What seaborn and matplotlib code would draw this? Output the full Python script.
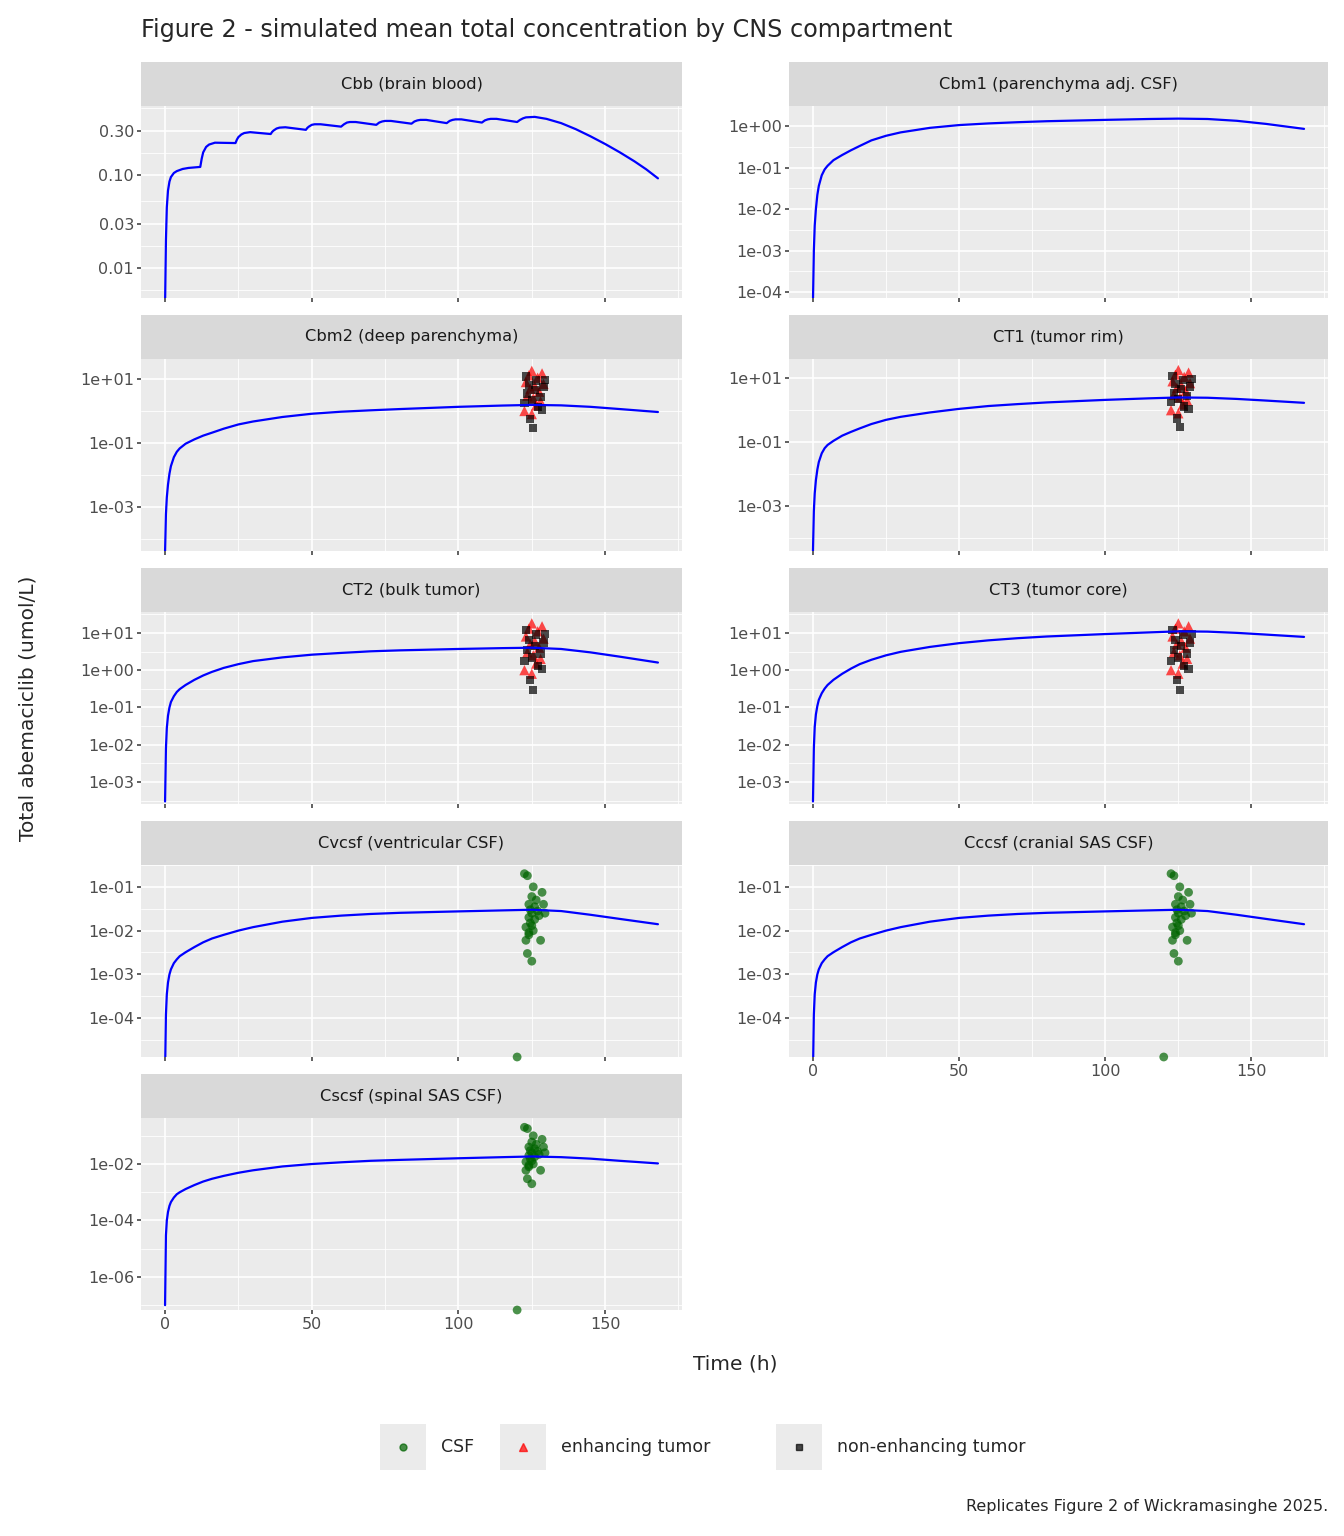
import numpy as np
import matplotlib
matplotlib.use("Agg")
import matplotlib.pyplot as plt
import seaborn as sns
from matplotlib.lines import Line2D
from matplotlib.patches import Rectangle

# ---- simulated curves (time h, conc umol/L) ----
cbb_t = [0, 0.3, 0.6, 1, 1.5, 2, 3, 4, 6, 8, 12, 12.5, 13, 14, 15, 17, 24, 24.5, 25, 26, 27, 29, 36, 36.5, 37, 38, 39, 41,
         48, 48.5, 49, 50, 51, 53, 60, 60.5, 61, 62, 63, 65, 72, 72.5, 73, 74, 75, 77, 84, 84.5, 85, 86, 87, 89,
         96, 96.5, 97, 98, 99, 101, 108, 108.5, 109, 110, 111, 113, 120, 120.5, 121, 122, 123, 126, 130, 135,
         140, 145, 150, 155, 160, 164, 168]
cbb_c = [0.004, 0.02, 0.045, 0.068, 0.085, 0.095, 0.105, 0.11, 0.116, 0.119, 0.122, 0.15, 0.175, 0.2, 0.212, 0.222,
         0.22, 0.24, 0.255, 0.272, 0.282, 0.288, 0.275, 0.29, 0.3, 0.315, 0.322, 0.325, 0.305, 0.32, 0.33, 0.345, 0.35, 0.35,
         0.33, 0.34, 0.35, 0.365, 0.37, 0.37, 0.345, 0.355, 0.365, 0.375, 0.38, 0.38, 0.355, 0.365, 0.375, 0.385, 0.39, 0.39,
         0.36, 0.37, 0.38, 0.39, 0.395, 0.395, 0.365, 0.375, 0.385, 0.395, 0.40, 0.40, 0.37, 0.38, 0.39, 0.405, 0.415,
         0.42, 0.40, 0.36, 0.31, 0.26, 0.215, 0.175, 0.14, 0.115, 0.092]

t_smooth = [0, 0.3, 0.6, 1, 1.5, 2, 3, 4, 5, 7, 10, 13, 16, 20, 25, 30, 40, 50, 60, 70, 80, 100, 115, 125, 135,
            145, 155, 168]
cbm1_c = [6e-5, 1e-3, 4e-3, 1e-2, 2.2e-2, 3.6e-2, 6.5e-2, 9e-2, 0.11, 0.15, 0.2, 0.26, 0.33, 0.45, 0.58, 0.7, 0.9, 1.05,
          1.15, 1.23, 1.3, 1.4, 1.47, 1.5, 1.47, 1.33, 1.12, 0.85]
cbm2_c = [4e-5, 6e-4, 2e-3, 5e-3, 1.1e-2, 1.9e-2, 3.6e-2, 5.3e-2, 6.8e-2, 9.5e-2, 0.13, 0.17, 0.21, 0.28, 0.38, 0.47,
          0.65, 0.82, 0.95, 1.05, 1.15, 1.35, 1.48, 1.55, 1.5, 1.35, 1.15, 0.93]
ct1_c = [4e-5, 7e-4, 2.5e-3, 6.5e-3, 1.4e-2, 2.4e-2, 4.5e-2, 6.5e-2, 8.2e-2, 0.11, 0.16, 0.21, 0.27, 0.37, 0.5, 0.62,
         0.85, 1.1, 1.35, 1.55, 1.75, 2.1, 2.35, 2.5, 2.45, 2.25, 2.0, 1.7]
ct2_c = [3e-4, 8e-3, 2.8e-2, 6e-2, 0.1, 0.14, 0.2, 0.26, 0.31, 0.4, 0.55, 0.72, 0.9, 1.15, 1.45, 1.75, 2.2, 2.6, 2.9,
         3.2, 3.4, 3.7, 3.9, 4.0, 3.7, 3.0, 2.3, 1.6]
ct3_c = [3e-4, 8e-3, 3e-2, 6.5e-2, 0.11, 0.16, 0.24, 0.32, 0.4, 0.55, 0.8, 1.1, 1.45, 1.9, 2.5, 3.1, 4.2, 5.3, 6.3,
         7.2, 8.0, 9.3, 10.3, 11.0, 10.8, 10.0, 9.0, 7.8]
cvcsf_c = [6e-6, 1.2e-4, 3.5e-4, 6.5e-4, 1e-3, 1.3e-3, 1.8e-3, 2.2e-3, 2.6e-3, 3.2e-3, 4.2e-3, 5.4e-3, 6.6e-3,
           8e-3, 1e-2, 1.2e-2, 1.6e-2, 1.95e-2, 2.2e-2, 2.4e-2, 2.55e-2, 2.75e-2, 2.9e-2, 3.0e-2, 2.8e-2, 2.3e-2,
           1.85e-2, 1.4e-2]
cccsf_c = cvcsf_c
cscsf_c = [1e-7, 3e-5, 1e-4, 2e-4, 3.3e-4, 4.5e-4, 6.5e-4, 8.5e-4, 1e-3, 1.3e-3, 1.8e-3, 2.4e-3, 3e-3, 3.8e-3,
           4.9e-3, 6e-3, 8.2e-3, 1.0e-2, 1.15e-2, 1.3e-2, 1.4e-2, 1.6e-2, 1.75e-2, 1.85e-2, 1.75e-2, 1.55e-2,
           1.3e-2, 1.05e-2]

# ---- observed data ----
enh_t = [122.5, 123.0, 123.5, 124.0, 124.5, 125.0, 125.0, 125.5, 126.0, 126.5, 127.0, 127.5, 128.0, 128.5, 129.0]
enh_c = [1.0, 8.0, 3.0, 13.0, 5.0, 18.0, 0.8, 2.5, 6.0, 1.5, 11.0, 4.0, 2.0, 15.0, 7.0]
non_t = [122.5, 123.0, 123.5, 124.0, 124.5, 125.0, 125.5, 126.0, 126.5, 127.0, 128.0, 128.5, 129.0, 129.5]
non_c = [1.8, 12.0, 3.5, 6.5, 0.55, 2.2, 0.3, 4.5, 9.0, 1.3, 2.8, 1.1, 5.5, 9.5]
csf_t = [120.0, 122.5, 123.0, 123.0, 123.5, 123.5, 124.0, 124.0, 124.0, 124.5, 124.5, 125.0, 125.0,
         125.0, 125.5, 125.5, 126.0, 126.0, 126.5, 127.0, 127.5, 128.0, 128.5, 129.0, 129.5, 124.0, 125.0]
csf_c = [1e-9, 0.2, 0.006, 0.012, 0.18, 0.003, 0.04, 0.02, 0.008, 0.03, 0.015, 0.002, 0.06, 0.025,
         0.1, 0.01, 0.035, 0.018, 0.05, 0.028, 0.022, 0.006, 0.075, 0.04, 0.025, 0.009, 0.013]

panels = [
    ("Cbb (brain blood)", cbb_t, cbb_c, None, (-2.32, -0.26)),
    ("Cbm1 (parenchyma adj. CSF)", t_smooth, cbm1_c, None, (-4.14, 0.48)),
    ("Cbm2 (deep parenchyma)", t_smooth, cbm2_c, "tumor", (-4.375, 1.625)),
    ("CT1 (tumor rim)", t_smooth, ct1_c, "tumor", (-4.4, 1.6)),
    ("CT2 (bulk tumor)", t_smooth, ct2_c, "tumor", (-3.59, 1.56)),
    ("CT3 (tumor core)", t_smooth, ct3_c, "tumor", (-3.59, 1.56)),
    ("Cvcsf (ventricular CSF)", t_smooth, cvcsf_c, "csf", (-4.89, -0.5)),
    ("Cccsf (cranial SAS CSF)", t_smooth, cccsf_c, "csf", (-4.89, -0.5)),
    ("Cscsf (spinal SAS CSF)", t_smooth, cscsf_c, "csf", (-7.17, -0.37)),
]
yticks = [
    [0.01, 0.03, 0.10, 0.30],
    [1e-4, 1e-3, 1e-2, 1e-1, 1],
    [1e-3, 1e-1, 10],
    [1e-3, 1e-1, 10],
    [1e-3, 1e-2, 1e-1, 1, 10],
    [1e-3, 1e-2, 1e-1, 1, 10],
    [1e-4, 1e-3, 1e-2, 1e-1],
    [1e-4, 1e-3, 1e-2, 1e-1],
    [1e-6, 1e-4, 1e-2],
]

sns.set_theme(style="darkgrid", rc={"axes.facecolor": "#EBEBEB", "grid.color": "white"})
plt.rcParams["font.family"] = ["DejaVu Sans"]
W, H = 1344, 1536
fig = plt.figure(figsize=(W / 100, H / 100), dpi=100)

col_x = [(141, 682), (789, 1328)]
strip_top = [62, 315, 568, 821, 1074]
for i, (name, tt, cc, obs, (ylo, yhi)) in enumerate(panels):
    r, c = divmod(i, 2)
    x0, x1 = col_x[c]
    st = strip_top[r]
    sax = fig.add_axes([x0 / W, 1 - (st + 44) / H, (x1 - x0) / W, 44 / H])
    sax.set_facecolor("#D9D9D9")
    sax.set_xticks([]); sax.set_yticks([])
    for s in sax.spines.values():
        s.set_visible(False)
    sax.text(0.5, 0.5, name, ha="center", va="center", fontsize=11.7, color="#1A1A1A")
    ax = fig.add_axes([x0 / W, 1 - (st + 236) / H, (x1 - x0) / W, 192 / H])
    ax.set_yscale("log")
    ax.set_xlim(-8.2, 176.2)
    sns.lineplot(x=tt, y=cc, ax=ax, color="blue", lw=1.6)
    if obs == "tumor":
        sns.scatterplot(x=enh_t, y=enh_c, ax=ax, marker="^", color="red", alpha=0.7, s=55, edgecolor="none")
        sns.scatterplot(x=non_t, y=non_c, ax=ax, marker="s", color="black", alpha=0.7, s=35, edgecolor="none")
    elif obs == "csf":
        sns.scatterplot(x=csf_t, y=np.maximum(csf_c, 10 ** ylo), ax=ax, color="darkgreen",
                        alpha=0.7, s=40, edgecolor="none", clip_on=False)
    ax.set_xticks([0, 50, 100, 150])
    ax.set_xticks([25, 75, 125, 175], minor=True)
    yt = yticks[i]
    ax.set_yticks(yt)
    lg = np.log10(yt)
    step = lg[1] - lg[0]
    mids = list(10 ** (lg[:-1] + step / 2)) + [10 ** (lg[0] - step / 2), 10 ** (lg[-1] + step / 2)]
    ax.set_yticks(mids, minor=True)
    ax.yaxis.set_minor_formatter(plt.NullFormatter())
    ax.set_ylim(10 ** ylo, 10 ** yhi)
    if i == 0:
        ax.set_yticklabels([f"{v:.2f}" for v in yt])
    else:
        ax.set_yticklabels([("%.0e" % v) for v in yt])
    ax.grid(which="major", color="white", lw=1.2)
    ax.grid(which="minor", color="white", lw=0.6)
    ax.tick_params(axis="both", which="major", labelsize=11.5, colors="#4D4D4D", length=3,
                   left=True, bottom=True, pad=2)
    ax.tick_params(axis="both", which="minor", length=0)
    if not (i == 7 or i == 8):
        ax.set_xticklabels([])
    for s in ax.spines.values():
        s.set_visible(False)

fig.text(141 / W, 1 - 30 / H, "Figure 2 - simulated mean total concentration by CNS compartment",
         fontsize=17.2, ha="left", va="center")
fig.text(28 / W, 1 - 708 / H, "Total abemaciclib (umol/L)", rotation=90, fontsize=14.5, ha="center", va="center")
fig.text(735 / W, 1 - 1364 / H, "Time (h)", fontsize=14.5, ha="center", va="center")
fig.text(1328 / W, 1 - 1506 / H, "Replicates Figure 2 of Wickramasinghe 2025.", fontsize=11.5,
         ha="right", va="center")

# legend drawn in ggplot style: grey key boxes, marker, label
leg_labels = ["CSF", "enhancing tumor", "non-enhancing tumor"]
leg_styles = [dict(marker="o", color="darkgreen", ms=5), dict(marker="^", color="red", ms=6),
              dict(marker="s", color="black", ms=5)]
key_x = [403, 523, 799]
ky = 1 - 1447 / H
for kx, lab, sty in zip(key_x, leg_labels, leg_styles):
    fig.patches.append(Rectangle(((kx - 23) / W, 1 - 1470 / H), 46 / W, 46 / H,
                                 transform=fig.transFigure, facecolor="#EBEBEB", edgecolor="none"))
    fig.add_artist(Line2D([kx / W], [ky], transform=fig.transFigure, ls="", alpha=0.7, **sty))
    fig.text((kx + 38) / W, ky, lab, fontsize=12.5, ha="left", va="center")

fig.savefig("out.png", dpi=100)
